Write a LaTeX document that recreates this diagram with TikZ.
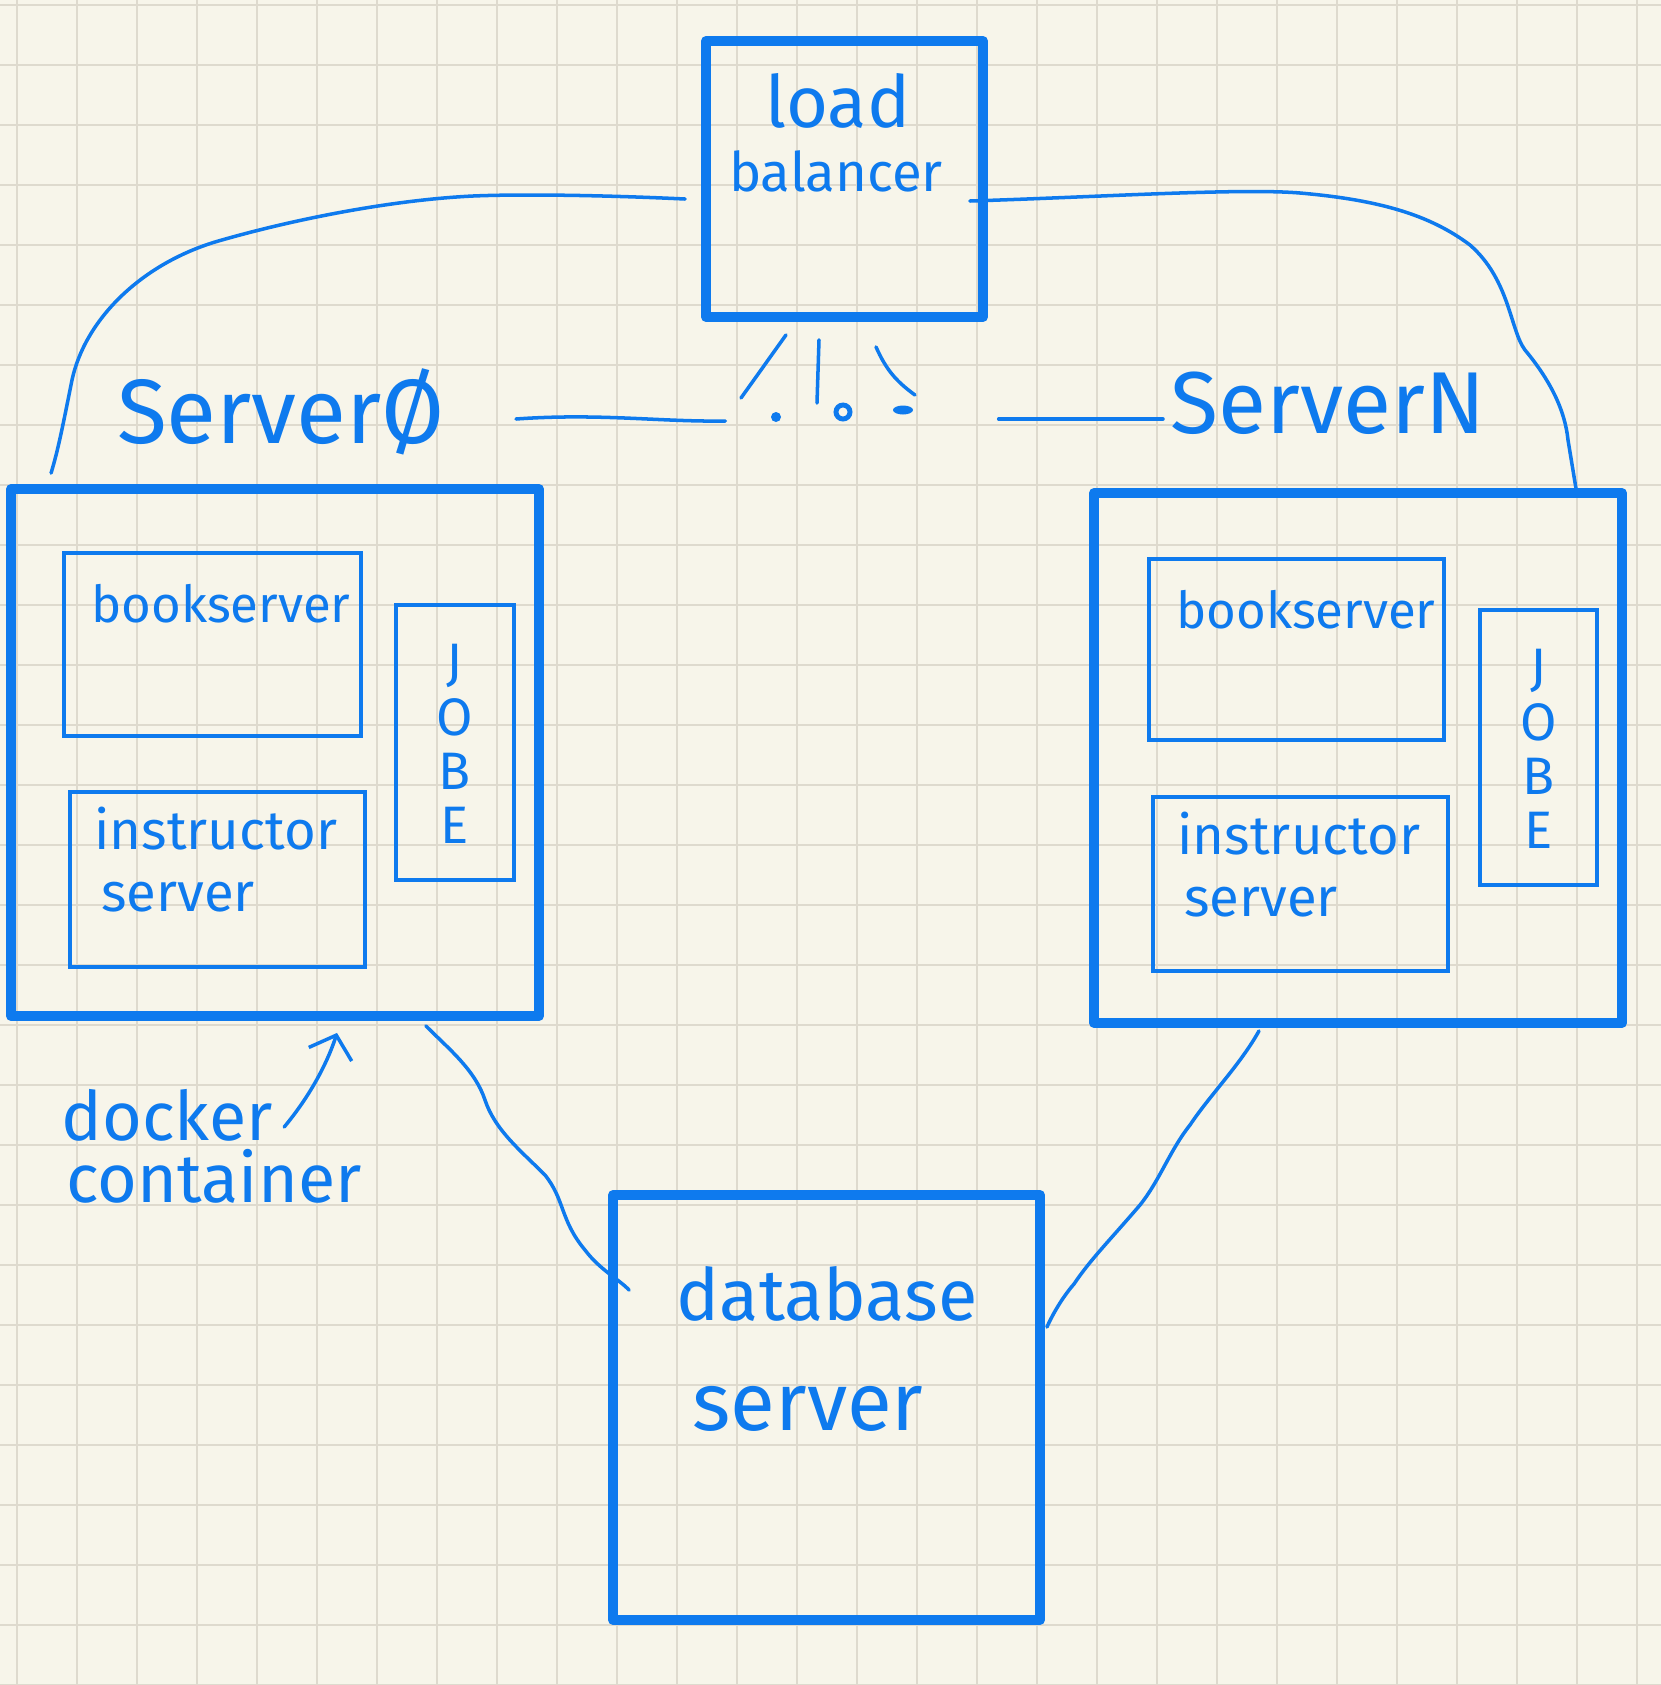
\documentclass[tikz,border=0pt]{standalone}
\usepackage{fontspec}
\setmainfont{Fira Sans}
\usetikzlibrary{arrows.meta,shapes.geometric}
\definecolor{inkblue}{RGB}{14,122,238}
\definecolor{paper}{RGB}{247,245,234}
\definecolor{gridgray}{RGB}{222,218,206}
\tikzset{
  bigbox/.style={draw=inkblue, line width=2.8pt, line join=round, inner sep=0pt},
  subbox/.style={draw=inkblue, line width=1.1pt, inner sep=0pt},
  hand/.style={text=inkblue, inner sep=0pt},
  wire/.style={draw=inkblue, line width=1pt, line cap=round, line join=round},
  gridline/.style={draw=gridgray, line width=0.8pt},
  inkdot/.style={fill=inkblue, inner sep=0pt},
}

\begin{document}
\begin{tikzpicture}
    \useasboundingbox (0,0) rectangle (16.61,-16.85);
    \fill[paper] (0,0) rectangle (16.61,-16.85);
    \begin{scope}
      \clip (0,0) rectangle (16.61,-16.85);
      \draw[gridline, step=0.6, shift={(0.17,-0.05)}] (-0.6,-17.4) grid (16.8,0.6);
    \end{scope}

    % boxes
    \node[bigbox, minimum width=2.77cm, minimum height=2.76cm] (lb) at (8.445,-1.79) {};
    \node[bigbox, minimum width=5.28cm, minimum height=5.27cm] (srv0) at (2.75,-7.525) {};
    \node[bigbox, minimum width=5.28cm, minimum height=5.30cm] (srvN) at (13.58,-7.58) {};
    \node[bigbox, minimum width=4.27cm, minimum height=4.25cm] (db) at (8.265,-14.075) {};
    \node[subbox, minimum width=2.97cm, minimum height=1.83cm] (book0) at (2.125,-6.445) {};
    \node[subbox, minimum width=2.95cm, minimum height=1.75cm] (instr0) at (2.175,-8.795) {};
    \node[subbox, minimum width=1.18cm, minimum height=2.75cm] (jobe0) at (4.55,-7.425) {};
    \node[subbox, minimum width=2.95cm, minimum height=1.81cm] (bookN) at (12.965,-6.495) {};
    \node[subbox, minimum width=2.95cm, minimum height=1.74cm] (instrN) at (13.005,-8.84) {};
    \node[subbox, minimum width=1.17cm, minimum height=2.75cm] (jobeN) at (15.385,-7.475) {};

    % labels
    \node[hand, anchor=base, font=\fontsize{20.5}{24}\selectfont] (lbl-load) at (8.38,-1.27) {load};
    \node[hand, anchor=base, font=\fontsize{15.5}{19}\selectfont] (lbl-bal) at (8.36,-1.91) {balancer};
    \node[hand, anchor=base, font=\fontsize{26}{30}\selectfont] (lbl0) at (2.81,-4.43) {ServerØ};
    \node[hand, anchor=base, font=\fontsize{25}{30}\selectfont] (lblN) at (13.28,-4.33) {ServerN};
    \node[hand, anchor=base, font=\fontsize{14.5}{18}\selectfont] (lbl-book0) at (2.21,-6.22) {bookserver};
    \node[hand, anchor=base, font=\fontsize{14.5}{18}\selectfont] (lbl-bookN) at (13.06,-6.28) {bookserver};
    \node[hand, anchor=base, font=\fontsize{15.5}{19}\selectfont] (lbl-instr0) at (2.16,-8.49) {instructor};
    \node[hand, anchor=base, font=\fontsize{15.5}{19}\selectfont] (lbl-isrv0) at (1.78,-9.11) {server};
    \node[hand, anchor=base, font=\fontsize{15.5}{19}\selectfont] (lbl-instrN) at (12.99,-8.54) {instructor};
    \node[hand, anchor=base, font=\fontsize{15.5}{19}\selectfont] (lbl-isrvN) at (12.61,-9.16) {server};
    \node[hand, align=center, font=\fontsize{15}{15.4}\selectfont] (lbl-jobe0) at (4.55,-7.44) {J\\O\\B\\E};
    \node[hand, align=center, font=\fontsize{15}{15.4}\selectfont] (lbl-jobeN) at (15.39,-7.49) {J\\O\\B\\E};
    \node[hand, anchor=base, font=\fontsize{20.5}{24}\selectfont] (lbl-data) at (8.27,-13.20) {database};
    \node[hand, anchor=base, font=\fontsize{23.3}{28}\selectfont] (lbl-dsrv) at (8.08,-14.30) {server};
    \node[hand, anchor=base, font=\fontsize{19.4}{24}\selectfont] (dock) at (1.67,-11.40) {docker};
    \node[hand, anchor=base, font=\fontsize{19.4}{24}\selectfont] (lbl-cont) at (2.14,-12.02) {container};

    % dots between the servers
    \node[inkdot, circle, minimum size=0.1cm] (dotA) at (7.76,-4.17) {};
    \node[circle, draw=inkblue, line width=1.4pt, minimum size=0.14cm, inner sep=0pt] (dotB) at (8.43,-4.12) {};
    \node[inkdot, ellipse, minimum width=0.2cm, minimum height=0.09cm] (dotC) at (9.03,-4.10) {};
    \coordinate (dashL) at (5.16,-4.19);
    \coordinate (dashR) at (11.63,-4.19);

    % connectors
    \draw[wire] ([shift={(-0.16,-0.20)}]lb.west) .. controls (6.0,-1.95) and (5.2,-1.94) .. (4.73,-1.96)
      .. controls (3.9,-2.0) and (2.9,-2.2) .. (2.15,-2.42)
      .. controls (1.4,-2.65) and (0.85,-3.2) .. (0.72,-3.8)
      .. controls (0.62,-4.3) and (0.58,-4.5) .. ([shift={(0.45,0.11)}]srv0.north west);
    \draw[wire] ([shift={(-0.18,-0.22)}]lb.east) .. controls (11,-1.97) and (12.4,-1.88) .. (13.0,-1.93)
      .. controls (13.8,-2.0) and (14.3,-2.15) .. (14.7,-2.45)
      .. controls (15.1,-2.8) and (15.1,-3.3) .. (15.25,-3.5)
      .. controls (15.5,-3.8) and (15.65,-4.1) .. (15.68,-4.4)
      -- ([shift={(-0.51,0)}]srvN.north east);
    \draw[wire] ([shift={(-1.18,-0.05)}]srv0.south east) .. controls (4.5,-10.5) and (4.75,-10.7) .. (4.85,-11.0)
      .. controls (4.95,-11.3) and (5.2,-11.5) .. (5.45,-11.75)
      .. controls (5.65,-12.0) and (5.6,-12.2) .. (5.85,-12.5)
      .. controls (6.0,-12.7) and (6.2,-12.8) .. ([shift={(0.21,-1.0)}]db.north west);
    \draw[wire] ([shift={(-0.99,-0.03)}]srvN.south) .. controls (12.4,-10.65) and (12.1,-10.95) .. (11.9,-11.25)
      .. controls (11.7,-11.5) and (11.6,-11.8) .. (11.4,-12.05)
      .. controls (11.1,-12.4) and (10.9,-12.6) .. (10.74,-12.84)
      .. controls (10.6,-13.0) and (10.5,-13.2) .. ([shift={(0.02,-1.37)}]db.north east);
    \draw[wire] (dashL) .. controls (6.0,-4.13) and (6.6,-4.22) .. ([shift={(-0.45,-0.04)}]dotA.west);
    \draw[wire] ([shift={(0.85,-0.09)}]dotC.east) -- (dashR);
    \draw[wire] ([shift={(-0.585,-0.13)}]lb.south) -- ([shift={(-0.35,0.19)}]dotA.center);
    \draw[wire] ([shift={(-0.255,-0.18)}]lb.south) -- ([shift={(-0.26,0.09)}]dotB.center);
    \draw[wire] ([shift={(0.315,-0.25)}]lb.south) to[bend right=15] ([shift={(0.12,0.15)}]dotC.center);
    \draw[wire, -{Straight Barb[length=2mm, width=4.5mm]}] ([shift={(0.11,0.13)}]dock.base east)
      .. controls (3.15,-10.9) and (3.3,-10.55) .. ([shift={(0.62,-0.12)}]srv0.south);
\end{tikzpicture}
\end{document}
